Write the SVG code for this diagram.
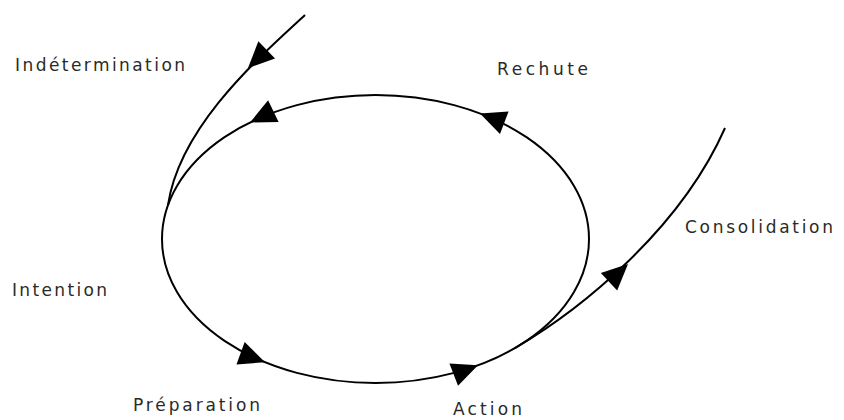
<svg xmlns="http://www.w3.org/2000/svg" xmlns:xlink="http://www.w3.org/1999/xlink" width="844" height="420" viewBox="0 0 844 420">
  <style>
    .line { fill: none; stroke: #000; stroke-width: 2; }
    .lbl { font-family: "DejaVu Sans", "Liberation Sans", Arial, sans-serif; font-size: 17px; fill: #2a2a2a; }
  </style>
  <defs>
    <path id="ah" d="M0,0 L-26,-12 L-26,12 Z" fill="#000"/>
  </defs>
  <rect width="844" height="420" fill="#fff"/>
  <g id="connectors">
    <ellipse class="line" cx="375.5" cy="239" rx="213.5" ry="144"/>
    <path class="line" d="M305,15 C262,55 180,125 168,205"/>
    <path class="line" d="M515,348 C580,310 680,230 725,128"/>
    <use xlink:href="#ah" transform="translate(248,68) rotate(136)"/>
    <use xlink:href="#ah" transform="translate(250,122.5) rotate(154)"/>
    <use xlink:href="#ah" transform="translate(480,113.4) rotate(-159)"/>
    <use xlink:href="#ah" transform="translate(265,362.2) rotate(20)"/>
    <use xlink:href="#ah" transform="translate(478,365.3) rotate(-21)"/>
    <use xlink:href="#ah" transform="translate(628,264) rotate(-43)"/>
  </g>
  <g id="indetermination"><text class="lbl" x="15" y="71" textLength="170" lengthAdjust="spacing">Indétermination</text></g>
  <g id="rechute"><text class="lbl" x="497" y="75" textLength="91" lengthAdjust="spacing">Rechute</text></g>
  <g id="consolidation"><text class="lbl" x="685" y="233" textLength="148" lengthAdjust="spacing">Consolidation</text></g>
  <g id="intention"><text class="lbl" x="12" y="296" textLength="95" lengthAdjust="spacing">Intention</text></g>
  <g id="preparation"><text class="lbl" x="133" y="411" textLength="127" lengthAdjust="spacing">Préparation</text></g>
  <g id="action"><text class="lbl" x="453" y="415" textLength="69" lengthAdjust="spacing">Action</text></g>
</svg>
